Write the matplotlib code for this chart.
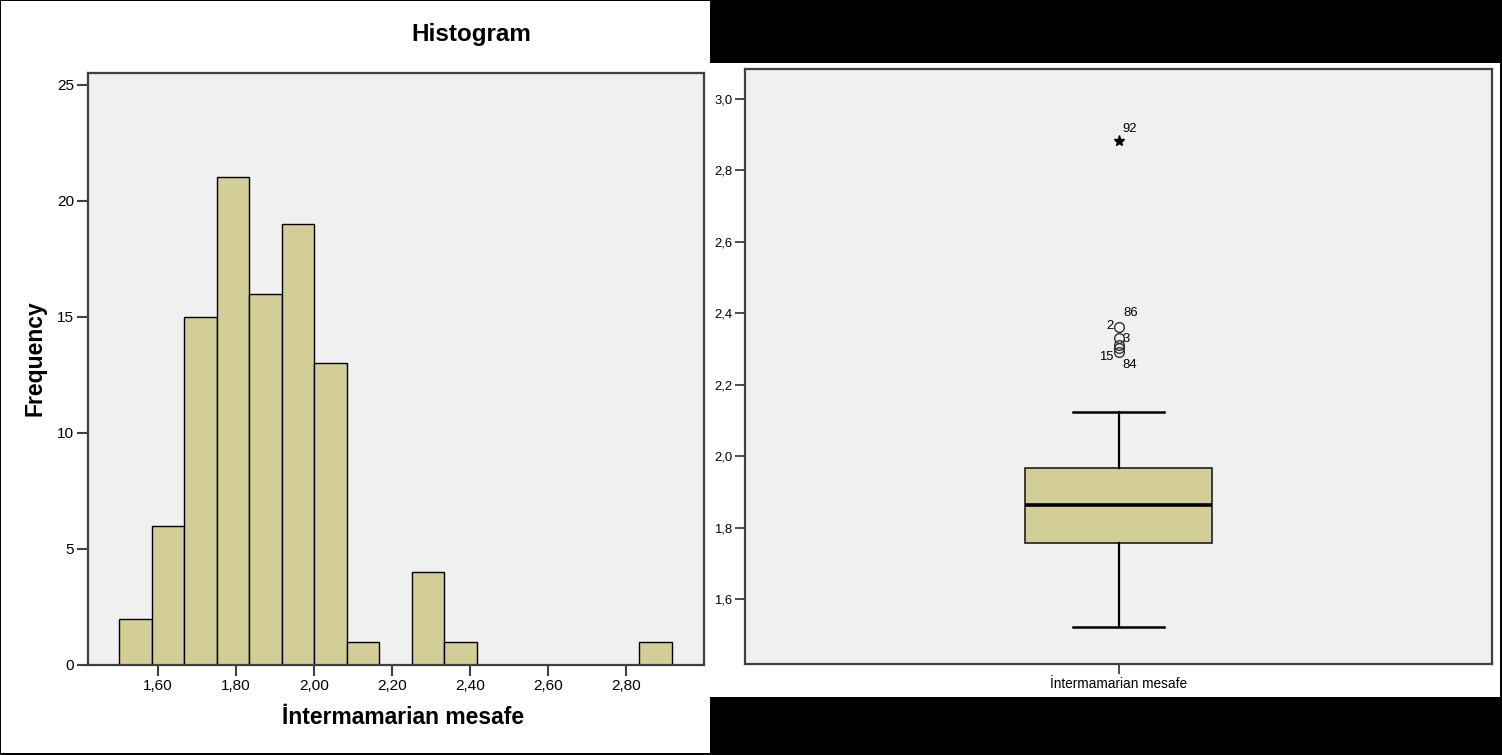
import matplotlib
matplotlib.use("Agg")
import matplotlib.pyplot as plt
from matplotlib import font_manager
from matplotlib.patches import Rectangle
from matplotlib.ticker import FuncFormatter

plt.rcParams['font.family'] = ['Liberation Sans', 'DejaVu Sans']

# narrow face for the small SPSS-style labels, if it is installed
try:
    font_manager.findfont('Liberation Sans Narrow', fallback_to_default=False)
    NARROW = True
except ValueError:
    NARROW = False
small_family = ['Liberation Sans Narrow'] if NARROW else ['Liberation Sans']
k = 1.0 if NARROW else 0.85

# histogram data (bins of width 1/12 starting at 1.50)
bin_start = 1.5
bin_width = 1 / 12
counts = [2, 6, 15, 21, 16, 19, 13, 1, 0, 4, 1, 0, 0, 0, 0, 0, 1]
hist_xticks = [1.6, 1.8, 2.0, 2.2, 2.4, 2.6, 2.8]
hist_yticks = [0, 5, 10, 15, 20, 25]

# boxplot summary
box_stats = {'q1': 1.758, 'med': 1.864, 'q3': 1.966,
             'whislo': 1.522, 'whishi': 2.123}
outlier_vals = [2.361, 2.330, 2.310, 2.302, 2.291]
extreme_val = 2.883
box_yticks = [1.6, 1.8, 2.0, 2.2, 2.4, 2.6, 2.8, 3.0]

W, H = 1502, 755
fig = plt.figure(figsize=(W / 100, H / 100), dpi=100, facecolor='black')

def px(x0, y0, x1, y1):
    # pixel box (top-left origin) -> figure fraction rect
    return [x0 / W, 1 - y1 / H, (x1 - x0) / W, (y1 - y0) / H]

# white panels (behind the axes)
fig.patches.append(Rectangle((1 / W, 1 - 753 / H), 709 / W, 752 / H,
                             transform=fig.transFigure, facecolor='white',
                             edgecolor='none', zorder=-5))
fig.patches.append(Rectangle((710 / W, 1 - 697 / H), 790 / W, 634 / H,
                             transform=fig.transFigure, facecolor='white',
                             edgecolor='none', zorder=-5))

plot_bg = '#f0f0f0'
bar_col = '#d3ce97'
frame_col = '#404040'

# ---- left: histogram ----
ax1 = fig.add_axes(px(88, 73, 704, 665))
ax1.set_facecolor(plot_bg)
lefts = [bin_start + i * bin_width for i in range(len(counts))]
ax1.bar(lefts, counts, width=bin_width, align='edge', color=bar_col,
        edgecolor='black', linewidth=1.0, zorder=2)
ax1.set_xlim(1.42, 3.0)
ax1.set_ylim(0, 25.5)
ax1.set_xticks(hist_xticks)
ax1.set_yticks(hist_yticks)
ax1.xaxis.set_major_formatter(FuncFormatter(lambda v, p: f"{v:.2f}".replace('.', ',')))
ax1.tick_params(axis='both', direction='out', length=8, width=1.5,
                color=frame_col, labelsize=13 * k, pad=2)
for s in ax1.spines.values():
    s.set_color(frame_col)
    s.set_linewidth(1.6)

fig.text(471 / W, 1 - 35 / H, 'Histogram', ha='center', va='center',
         fontsize=17.5, fontweight='bold')
fig.text(35 / W, 1 - 358 / H, 'Frequency', ha='center', va='center',
         rotation=90, fontsize=16.5, fontweight='bold')
fig.text(403 / W, 1 - 717 / H, 'İntermamarian mesafe', ha='center',
         va='center', fontsize=16.5, fontweight='bold')

# ---- right: boxplot ----
ax2 = fig.add_axes(px(745, 69, 1492, 664))
ax2.set_facecolor(plot_bg)
stats = dict(box_stats, fliers=[], label='')
ax2.bxp([stats], positions=[1], widths=0.498, patch_artist=True,
        showfliers=False,
        boxprops=dict(facecolor=bar_col, edgecolor='#202020', linewidth=1.2),
        medianprops=dict(color='black', linewidth=2.6),
        whiskerprops=dict(color='black', linewidth=1.6),
        capprops=dict(color='black', linewidth=1.8), capwidths=0.246)
ax2.plot([1] * len(outlier_vals), outlier_vals, linestyle='none', marker='o',
         markersize=7, markerfacecolor='none', markeredgecolor='#333333',
         markeredgewidth=1, zorder=3)
ax2.plot([1], [extreme_val], linestyle='none', marker='*', markersize=8,
         color='black', zorder=3)

def lab(txt, y, dx, dy, ha):
    ax2.annotate(txt, xy=(1, y), xytext=(dx, dy), textcoords='offset pixels',
                 ha=ha, va='center', fontsize=11 * k, family=small_family)

lab('92', extreme_val, 4, 12, 'left')
lab('86', outlier_vals[0], 5, 14, 'left')
lab('2', outlier_vals[0], -5, 1, 'right')
lab('3', outlier_vals[1], 4, -1, 'left')
lab('15', outlier_vals[4], -5, -5, 'right')
lab('84', outlier_vals[4], 4, -13, 'left')

ax2.set_xlim(0, 2)
ax2.set_ylim(1.418, 3.084)
ax2.set_xticks([1])
ax2.set_xticklabels(['İntermamarian mesafe'])
ax2.set_yticks(box_yticks)
ax2.yaxis.set_major_formatter(FuncFormatter(lambda v, p: f"{v:.1f}".replace('.', ',')))
ax2.tick_params(axis='both', direction='out', length=7, width=1.3,
                color=frame_col, labelsize=11 * k, pad=2)
for s in ax2.spines.values():
    s.set_color(frame_col)
    s.set_linewidth(1.6)

for t in ax1.get_xticklabels() + ax1.get_yticklabels() + \
        ax2.get_xticklabels() + ax2.get_yticklabels():
    t.set_family(small_family)
ax2.get_xticklabels()[0].set_fontsize(11.5 * k)

fig.savefig('out.png', dpi=100, facecolor='black')
